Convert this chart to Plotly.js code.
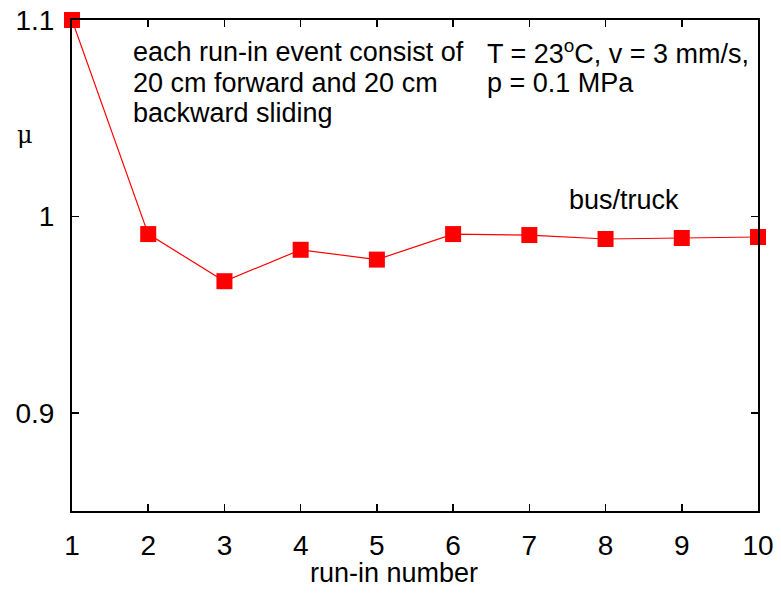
<!DOCTYPE html>
<html>
<head>
<meta charset="utf-8">
<script src="https://cdn.plot.ly/plotly-3.0.1.min.js"></script>
<style>
  body { margin: 0; background: #fff; }
  #chart { width: 781px; height: 594px; }
</style>
</head>
<body>
<div id="chart"></div>
<script>
// run-in number vs friction coefficient
var runIn = [1, 2, 3, 4, 5, 6, 7, 8, 9, 10];
var mu = [1.1, 0.991, 0.967, 0.983, 0.978, 0.991, 0.9905, 0.9885, 0.989, 0.9895];

var xTicks = [1, 2, 3, 4, 5, 6, 7, 8, 9, 10];
var yTicks = [0.9, 1, 1.1];
var yTickText = ['0.9', '1', '1.1'];

var noteLeft = ['each run-in event consist of', '20 cm forward and 20 cm', 'backward sliding'];
var noteRight = ['T = 23<sup>o</sup>C, v = 3 mm/s,', 'p = 0.1 MPa'];
var lineY = [0.935, 0.872, 0.811];

var fnt = {family: 'Liberation Sans, Arial, sans-serif', size: 27, color: '#000'};
var tickFnt = {family: 'Liberation Sans, Arial, sans-serif', size: 28, color: '#000'};

var trace = {
    x: runIn,
    y: mu,
    type: 'scatter',
    mode: 'lines+markers',
    line: {color: '#ff0000', width: 1.2},
    marker: {color: '#ff0000', symbol: 'square', size: 16},
    cliponaxis: false,
    showlegend: false
};

var annotations = [];
noteLeft.forEach(function(t, i) {
    annotations.push({xref: 'paper', yref: 'paper', x: 0.086, y: lineY[i], xanchor: 'left', yanchor: 'middle',
        text: t, showarrow: false, font: fnt});
});
noteRight.forEach(function(t, i) {
    annotations.push({xref: 'paper', yref: 'paper', x: 0.602, y: lineY[i], xanchor: 'left', yanchor: 'middle',
        text: t, showarrow: false, font: fnt});
});
annotations.push({xref: 'paper', yref: 'paper', x: 0.7216, y: 0.633, xanchor: 'left', yanchor: 'middle',
    text: 'bus/truck', showarrow: false, font: fnt});
annotations.push({xref: 'paper', yref: 'paper', x: -0.0685, y: 0.766, xanchor: 'center', yanchor: 'middle',
    text: 'μ', showarrow: false, font: {family: 'DejaVu Serif, serif', size: 24, color: '#000'}});
annotations.push({xref: 'paper', yref: 'paper', x: 0.469, y: -0.126, xanchor: 'center', yanchor: 'middle',
    text: 'run-in number', showarrow: false, font: fnt});

var layout = {
    width: 781,
    height: 594,
    margin: {l: 72, r: 23, t: 20, b: 83},
    paper_bgcolor: '#fff',
    plot_bgcolor: '#fff',
    font: fnt,
    xaxis: {
        range: [1, 10],
        tickvals: xTicks,
        ticks: 'inside',
        ticklen: 7,
        tickwidth: 1.5,
        tickcolor: '#000',
        showline: true,
        linecolor: '#000',
        linewidth: 2,
        mirror: 'ticks',
        showgrid: false,
        zeroline: false,
        tickfont: tickFnt,
        ticklabelstandoff: 8
    },
    yaxis: {
        range: [0.85, 1.1],
        tickvals: yTicks,
        ticktext: yTickText,
        ticks: 'inside',
        ticklen: 7,
        tickwidth: 1.5,
        tickcolor: '#000',
        showline: true,
        linecolor: '#000',
        linewidth: 2,
        mirror: 'ticks',
        showgrid: false,
        zeroline: false,
        tickfont: tickFnt,
        ticklabelstandoff: 10
    },
    annotations: annotations
};

Plotly.newPlot('chart', [trace], layout, {displayModeBar: false, staticPlot: true});
</script>
</body>
</html>
